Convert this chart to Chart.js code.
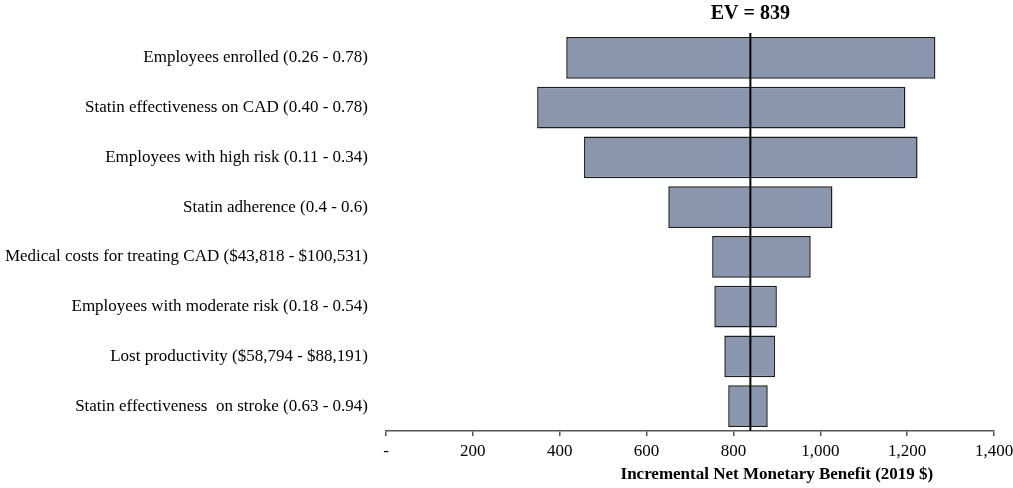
<!DOCTYPE html>
<html>
<head>
<meta charset="utf-8">
<script src="https://cdn.jsdelivr.net/npm/chart.js@4/dist/chart.umd.min.js"></script>
<style>
  html, body { margin: 0; padding: 0; background: #fff; }
  #wrap { width: 1013px; height: 488px; }
</style>
</head>
<body>
<div id="wrap"><canvas id="tornado"></canvas></div>
<script>
// tornado diagram - one way sensitivity
const parameters = [
    "Employees enrolled (0.26 - 0.78)",
    "Statin effectiveness on CAD (0.40 - 0.78)",
    "Employees with high risk (0.11 - 0.34)",
    "Statin adherence (0.4 - 0.6)",
    "Medical costs for treating CAD ($43,818 - $100,531)",
    "Employees with moderate risk (0.18 - 0.54)",
    "Lost productivity ($58,794 - $88,191)",
    "Statin effectiveness  on stroke (0.63 - 0.94)"
];
const lowValues = [415, 348, 456, 650, 751, 756, 779, 788];
const highValues = [1265, 1196, 1224, 1028, 978, 900, 896, 879];
const expectedValue = 839;
const xTicks = [0, 200, 400, 600, 800, 1000, 1200, 1400];
const axisTitle = "Incremental Net Monetary Benefit (2019 $)";

const serif = "'Liberation Serif', 'Times New Roman', serif";

// vertical EV line + title + axis title
const evPlugin = {
    id: "evLine",
    afterDatasetsDraw(chart) {
        const ctx = chart.ctx;
        const x = chart.scales.x.getPixelForValue(expectedValue);
        const area = chart.chartArea;
        ctx.save();
        ctx.strokeStyle = "#000";
        ctx.lineWidth = 2;
        ctx.beginPath();
        ctx.moveTo(x, area.top);
        ctx.lineTo(x, area.bottom);
        ctx.stroke();

        ctx.fillStyle = "#000";
        ctx.textAlign = "center";
        ctx.textBaseline = "middle";
        ctx.font = "bold 20px " + serif;
        ctx.fillText("EV = " + expectedValue, x, 14);

        ctx.font = "bold 17px " + serif;
        ctx.fillText(axisTitle, chart.scales.x.getPixelForValue(900), 475);
        ctx.restore();
    }
};

new Chart(document.getElementById("tornado"), {
    type: "bar",
    data: {
        labels: parameters,
        datasets: [
            {
                data: parameters.map((p, i) => [lowValues[i], highValues[i]]),
                backgroundColor: "#8a96ae",
                borderColor: "#1c1c1c",
                borderWidth: 1.5,
                borderSkipped: false,
                categoryPercentage: 1,
                barPercentage: 0.835
            }
        ]
    },
    options: {
        indexAxis: "y",
        responsive: true,
        maintainAspectRatio: false,
        animation: false,
        layout: { padding: { top: 33, right: 19, bottom: 0, left: 0 } },
        plugins: {
            legend: { display: false },
            tooltip: { enabled: false }
        },
        scales: {
            x: {
                type: "linear",
                min: 0,
                max: 1400,
                afterBuildTicks: (axis) => { axis.ticks = xTicks.map(v => ({ value: v })); },
                afterFit: (axis) => {
                    axis.height = 57;
                    axis.paddingRight = 0;
                    axis.paddingLeft = 0;
                },
                border: { display: true, color: "#555", width: 1.5 },
                grid: { drawOnChartArea: false, drawTicks: true, tickLength: 5, color: "#555", lineWidth: 1.5 },
                ticks: {
                    color: "#000",
                    padding: 5,
                    maxRotation: 0,
                    font: { family: serif, size: 17 },
                    callback: (v) => v === 0 ? "-" : v.toLocaleString("en-US")
                }
            },
            y: {
                afterFit: (axis) => { axis.width = 386; },
                border: { display: false },
                grid: { display: false },
                ticks: {
                    color: "#000",
                    padding: 10,
                    font: { family: serif, size: 17 }
                }
            }
        }
    },
    plugins: [evPlugin]
});
</script>
</body>
</html>
